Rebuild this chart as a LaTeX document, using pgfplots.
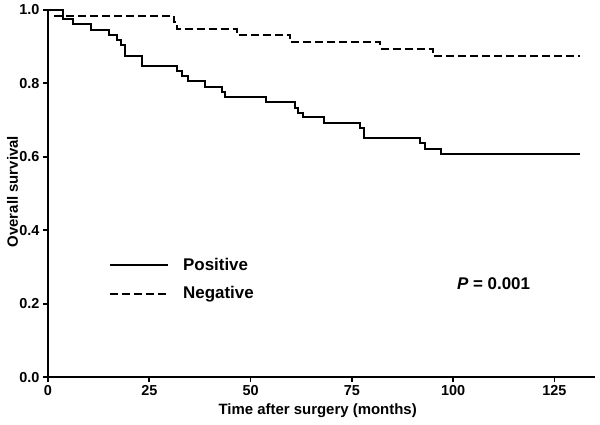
\documentclass[border=0pt]{standalone}
\usepackage{fontspec}
\setmainfont{Liberation Sans}
\usepackage{pgfplots}
\pgfplotsset{compat=1.18}

\begin{document}
\begin{tikzpicture}
\begin{axis}[
  at={(0,0)}, anchor=south west,
  scale only axis,
  width=547bp, height=367.6bp,
  xmin=0, xmax=135, ymin=0, ymax=1,
  axis x line=bottom, axis y line=left,
  axis line style={line width=1.7bp,-},
  tick style={line width=1.7bp,black},
  tick align=outside,
  major tick length=5bp,
  xtick={0,25,50,75,100,125},
  ytick={0,0.2,0.4,0.6,0.8,1.0},
  yticklabel style={/pgf/number format/.cd,fixed,fixed zerofill,precision=1},
  /pgf/number format/assume math mode=true,
  tick label style={font=\fontsize{14.5}{16}\selectfont\bfseries},
  label style={font=\fontsize{15}{17}\selectfont\bfseries},
  xlabel={Time after surgery (months)},
  ylabel={Overall survival},
  xlabel style={at={(rel axis cs:0.493,-0.092)},anchor=center},
  ylabel style={at={(rel axis cs:-0.065,0.505)},anchor=center},
  legend style={at={(axis cs:14.3,0.267)},anchor=west,draw=none,fill=none,
    font=\fontsize{17}{19}\selectfont\bfseries,row sep=11bp,
    legend cell align=left},
  legend image code/.code={\draw[#1] (0bp,0bp) -- (58bp,0bp); \path (70bp,0bp);},
]
% Positive
\addplot[const plot,black,line width=2bp] coordinates {
  (0,1.000) (3.8,0.976) (6.1,0.960) (10.5,0.944) (15.1,0.931)
  (17.0,0.918) (17.9,0.904) (19.0,0.874) (23.3,0.847) (31.8,0.833)
  (33.0,0.820) (34.6,0.806) (38.8,0.791) (42.9,0.777) (43.7,0.763)
  (53.8,0.748) (61.0,0.733) (61.8,0.720) (63.0,0.707) (68.0,0.693)
  (77.0,0.679) (77.9,0.650) (91.9,0.637) (93.1,0.621) (97.0,0.607)
  (131.2,0.607)
};
\addlegendentry{Positive}
% Negative
\addplot[const plot,black,line width=2bp,dash pattern=on 8bp off 4bp] coordinates {
  (0,1.000) (1.7,0.984) (31.0,0.966) (31.8,0.947) (46.6,0.931)
  (59.8,0.911) (82.0,0.893) (95.0,0.875) (131.2,0.875)
};
\addlegendentry{Negative}
\node[anchor=west,inner sep=0pt,font=\fontsize{17}{19}\selectfont\bfseries]
  at (axis cs:100.9,0.254) {\textit{P} = 0.001};
\end{axis}
\pgfresetboundingbox
\path[use as bounding box] (-48bp,-47.7bp) rectangle (552bp,377.3bp);
\end{tikzpicture}
\end{document}
